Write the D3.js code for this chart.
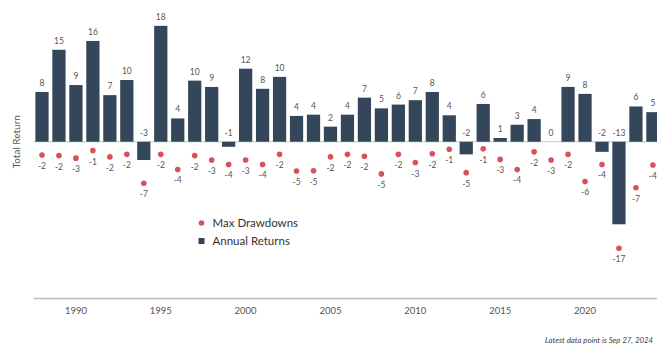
<!DOCTYPE html>
<html>
<head>
<meta charset="utf-8">
<script src="https://cdn.jsdelivr.net/npm/d3@7"></script>
<style>
  html, body { margin: 0; padding: 0; background: #fff; }
  svg { display: block; font-family: Lato, "Open Sans", sans-serif; }
</style>
</head>
<body>
<svg id="chart" width="657" height="346"></svg>
<script>
const years = d3.range(1988, 2025);
const annualReturns = [7.9, 14.6, 9.0, 16.0, 7.4, 9.8, -2.9, 18.4, 3.7, 9.7, 8.7, -0.8,
  11.6, 8.4, 10.3, 4.1, 4.3, 2.4, 4.3, 7.0, 5.3, 5.9, 6.6, 7.9, 4.2, -2.0, 6.0, 0.6,
  2.7, 3.6, 0.0, 8.7, 7.6, -1.6, -13.1, 5.6, 4.7];
const maxDrawdowns = [-2.1, -2.2, -2.6, -1.4, -2.4, -2.0, -6.6, -2.0, -4.4, -2.2, -2.9, -3.6,
  -2.9, -3.6, -2.0, -4.65, -4.6, -2.4, -2.0, -2.3, -5.1, -2.0, -3.3, -1.9, -1.2, -4.9, -1.1, -2.8,
  -4.4, -1.6, -2.9, -2.0, -6.3, -3.6, -16.9, -7.3, -3.7];
const tickYears = [1990, 1995, 2000, 2005, 2010, 2015, 2020];
const legendLabels = ["Max Drawdowns", "Annual Returns"];
const yTitle = "Total Return";
const footnote = "Latest data point is Sep 27, 2024";

const barColor = "#34475a";
const dotColor = "#d9505a";
const textColor = "#555";

const svg = d3.select("#chart");
const x = d3.scaleBand().domain(years).range([33.5, 33.5 + 37 * 16.97]).paddingInner(0.22).paddingOuter(0.11);
const y = d3.scaleLinear().domain([-24.8, 22.5]).range([298, 0]);
const fmt = v => { const r = Math.round(v); return r === 0 ? "0" : String(r); };

const data = years.map((yr, i) => ({ yr, ret: annualReturns[i], dd: maxDrawdowns[i] }));

// zero line
svg.append("line")
  .attr("x1", x.range()[0]).attr("x2", 657)
  .attr("y1", y(0)).attr("y2", y(0))
  .attr("stroke", "#c4c8cc").attr("stroke-width", 1);

// bars
svg.append("g").selectAll("rect").data(data).join("rect")
  .attr("x", d => x(d.yr))
  .attr("width", x.bandwidth())
  .attr("y", d => y(Math.max(0, d.ret)))
  .attr("height", d => Math.abs(y(d.ret) - y(0)))
  .attr("fill", barColor);

// bar labels
svg.append("g").selectAll("text").data(data).join("text")
  .attr("x", d => x(d.yr) + x.bandwidth() / 2)
  .attr("y", d => d.ret > 0 ? y(d.ret) - 6 : y(0) - 6)
  .attr("text-anchor", "middle")
  .attr("font-size", 8.5)
  .attr("fill", textColor)
  .text(d => fmt(d.ret));

// drawdown dots
svg.append("g").selectAll("circle").data(data).join("circle")
  .attr("cx", d => x(d.yr) + x.bandwidth() / 2)
  .attr("cy", d => y(d.dd))
  .attr("r", 2.8)
  .attr("fill", dotColor);

// drawdown labels
svg.append("g").selectAll("text").data(data).join("text")
  .attr("x", d => x(d.yr) + x.bandwidth() / 2)
  .attr("y", d => y(d.dd) + 14)
  .attr("text-anchor", "middle")
  .attr("font-size", 8.5)
  .attr("fill", textColor)
  .text(d => fmt(d.dd));

// x axis
const xAxisY = 298.5;
svg.append("line")
  .attr("x1", x.range()[0]).attr("x2", 657)
  .attr("y1", xAxisY).attr("y2", xAxisY)
  .attr("stroke", "#b9bdc1").attr("stroke-width", 1.5);
svg.append("g").selectAll("text").data(tickYears).join("text")
  .attr("x", d => x(d) + x.bandwidth() / 2)
  .attr("y", 313.5)
  .attr("text-anchor", "middle")
  .attr("font-size", 9.5)
  .attr("fill", textColor)
  .text(d => d);

// y title
svg.append("text")
  .attr("transform", `translate(20, ${y(0)}) rotate(-90)`)
  .attr("text-anchor", "middle")
  .attr("font-size", 10)
  .attr("fill", textColor)
  .text(yTitle);

// legend
const lg = svg.append("g").attr("transform", "translate(201.5, 223)");
lg.append("circle").attr("cx", 0).attr("cy", 0).attr("r", 2.8).attr("fill", dotColor);
lg.append("text").attr("x", 11).attr("y", 4.3).attr("font-size", 11.5).attr("fill", "#333").text(legendLabels[0]);
lg.append("rect").attr("x", -3).attr("y", 15).attr("width", 6).attr("height", 6).attr("fill", barColor);
lg.append("text").attr("x", 11).attr("y", 22.3).attr("font-size", 11.5).attr("fill", "#333").text(legendLabels[1]);

// footnote
svg.append("text")
  .attr("x", 653).attr("y", 343)
  .attr("text-anchor", "end")
  .attr("font-size", 7.8)
  .attr("font-style", "italic")
  .attr("fill", "#444")
  .text(footnote);
</script>
</body>
</html>
